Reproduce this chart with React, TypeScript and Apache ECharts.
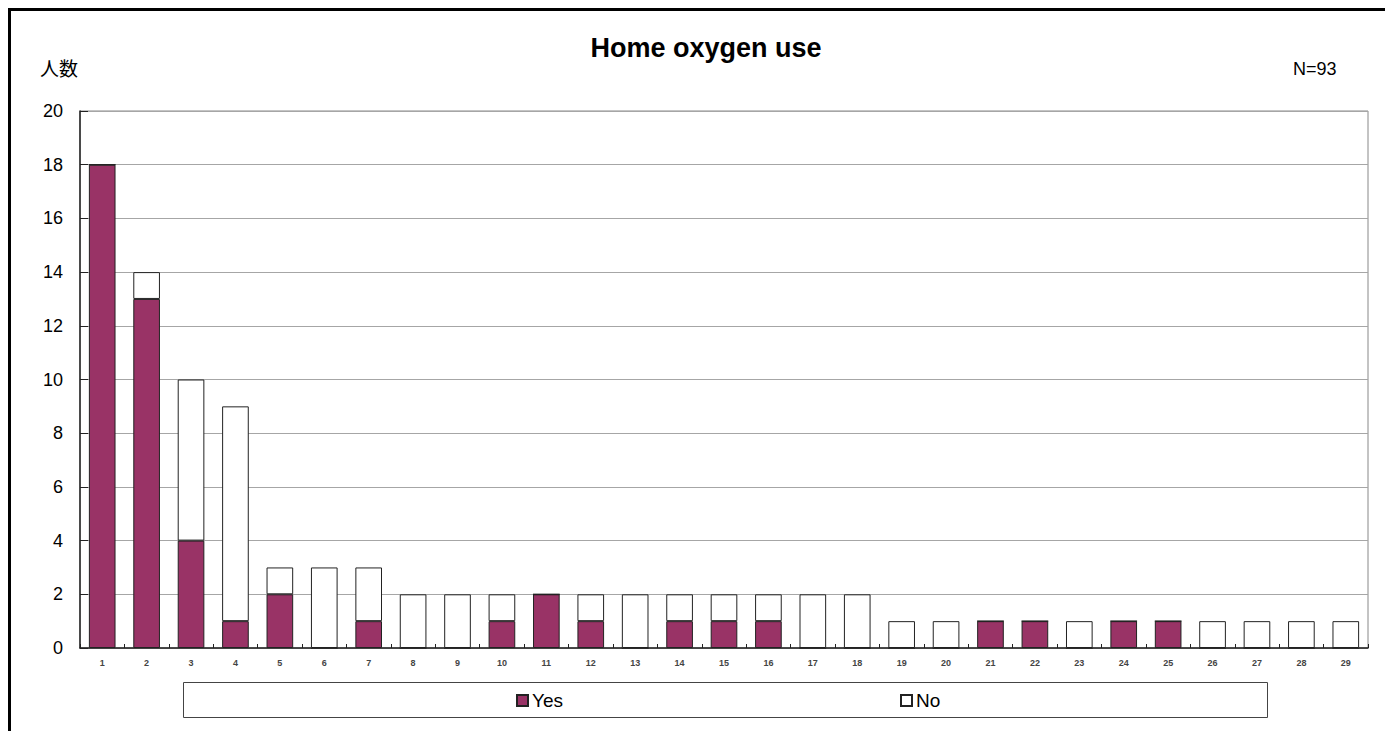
import React, { useEffect, useRef } from "react";
import * as echarts from "echarts";

const categories = ["1","2","3","4","5","6","7","8","9","10","11","12","13","14","15","16","17","18","19","20","21","22","23","24","25","26","27","28","29"];
const yesValues = [18,13,4,1,2,0,1,0,0,1,2,1,0,1,1,1,0,0,0,0,1,1,0,1,1,0,0,0,0];
const noValues = [0,1,6,8,1,3,2,2,2,1,0,1,2,1,1,1,2,2,1,1,0,0,1,0,0,1,1,1,1];
const yTicks = { min: 0, max: 20, interval: 2 };
const titleText = "Home oxygen use";
const yAxisName = "人数";
const nText = "N=93";

export default function App() {
  const ref = useRef<HTMLDivElement>(null);
  useEffect(() => {
    if (!ref.current) return;
    const chart = echarts.init(ref.current, null, { renderer: "svg" });
    const numFont = "'Liberation Sans', Arial, sans-serif";
    const legendText = { fontSize: 19, color: "#000", fontFamily: numFont, padding: [0, 0, 0, -1] };
    chart.setOption({
      animation: false,
      backgroundColor: "#ffffff",
      title: {
        text: titleText,
        left: 701,
        textAlign: "center",
        top: 29,
        textStyle: { fontSize: 27, fontWeight: "bold", color: "#000", fontFamily: numFont },
      },
      graphic: [
        {
          type: "text",
          left: 40,
          top: 58,
          style: { text: yAxisName, fontSize: 19, fill: "#000", fontFamily: "'Noto Sans CJK JP', sans-serif" },
        },
        {
          type: "text",
          left: 1293,
          top: 60,
          style: { text: nText, fontSize: 18, fill: "#000", fontFamily: numFont },
        },
        {
          type: "rect",
          shape: { x: 183.5, y: 682.5, width: 1084, height: 35 },
          style: { fill: "none", stroke: "#444", lineWidth: 1 },
          z: -1,
        },
      ],
      legend: [
        {
          data: ["Yes"],
          icon: "rect",
          left: 516,
          top: 691,
          padding: 0,
          itemWidth: 11,
          itemHeight: 11,
          itemGap: 4,
          textStyle: legendText,
        },
        {
          data: ["No"],
          icon: "rect",
          left: 900,
          top: 691,
          padding: 0,
          itemWidth: 11,
          itemHeight: 11,
          textStyle: legendText,
        },
      ],
      grid: {
        left: 80,
        right: 17,
        top: 111,
        bottom: 83,
        show: true,
        borderColor: "#888",
        borderWidth: 1,
        backgroundColor: "#fff",
      },
      xAxis: {
        type: "category",
        data: categories,
        axisLine: { show: true, lineStyle: { color: "#222", width: 1.5 } },
        axisTick: { show: true, inside: true, length: 4, lineStyle: { color: "#222" } },
        axisLabel: { fontSize: 9, color: "#444", margin: 10, fontFamily: numFont, fontWeight: "bold", interval: 0 },
        splitLine: { show: false },
      },
      yAxis: {
        type: "value",
        min: yTicks.min,
        max: yTicks.max,
        interval: yTicks.interval,
        axisLine: { show: true, lineStyle: { color: "#222", width: 1.5 } },
        axisTick: { show: true, inside: true, length: 8, lineStyle: { color: "#222" } },
        axisLabel: { fontSize: 18, color: "#000", margin: 17, fontFamily: numFont },
        splitLine: { show: true, lineStyle: { color: "#a6a6a6", width: 1 } },
      },
      series: [
        {
          name: "Yes",
          type: "bar",
          stack: "total",
          data: yesValues,
          barWidth: "60%",
          itemStyle: { color: "#993366", borderColor: "#222", borderWidth: 1 },
        },
        {
          name: "No",
          type: "bar",
          stack: "total",
          data: noValues,
          barWidth: "60%",
          itemStyle: { color: "#ffffff", borderColor: "#222", borderWidth: 1 },
        },
      ],
    });
    return () => chart.dispose();
  }, []);
  return (
    <div style={{ position: "fixed", left: 0, top: 0, width: 1385, height: 731, background: "#fff", overflow: "hidden" }}>
      <div ref={ref} style={{ position: "absolute", left: 0, top: 0, width: 1385, height: 731 }} />
      <div
        style={{
          position: "absolute",
          left: 8,
          top: 8,
          width: 1377,
          height: 723,
          borderLeft: "3px solid #000",
          borderTop: "3px solid #000",
          boxSizing: "border-box",
          pointerEvents: "none",
        }}
      />
    </div>
  );
}
